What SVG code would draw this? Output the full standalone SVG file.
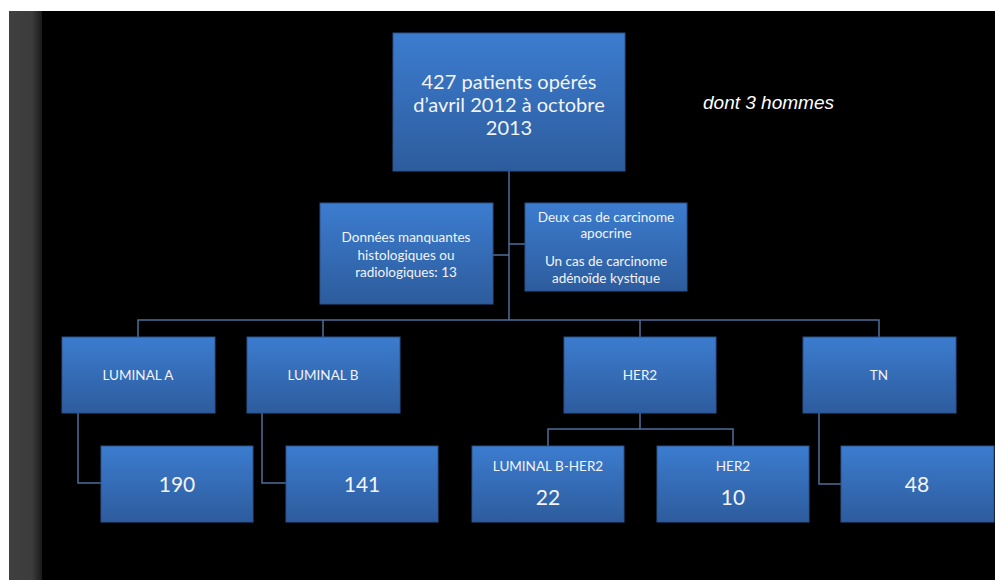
<svg xmlns="http://www.w3.org/2000/svg" width="995" height="580" viewBox="0 0 995 580">
<defs>
<linearGradient id="g" x1="0" y1="0" x2="0" y2="1">
<stop offset="0" stop-color="#3c7ccf"/>
<stop offset="1" stop-color="#2d5c9d"/>
</linearGradient>
<linearGradient id="side" x1="0" y1="0" x2="1" y2="0">
<stop offset="0" stop-color="#404040"/>
<stop offset="0.7" stop-color="#3c3c3c"/>
<stop offset="1" stop-color="#1a1a1a"/>
</linearGradient>
<style>
.box{fill:url(#g);stroke:#2b528c;stroke-width:1}
.t{font-family:Lato,"Open Sans",sans-serif;fill:#f2f4f8;text-anchor:middle;dominant-baseline:central}
.s{font-size:13.5px}
.n{font-size:21px}
.c{fill:none;stroke:#4d6e9a;stroke-width:1.5}
</style>
</defs>
<rect width="995" height="580" fill="#ffffff"/>
<rect x="9" y="11" width="33" height="569" fill="url(#side)"/>
<rect x="42" y="11" width="953" height="569" fill="#000000"/>

<g id="connectors">
<path class="c" d="M509,171 V320"/>
<path class="c" d="M493,255 H509 M509,244 H525"/>
<path class="c" d="M138,337 V320 H879 V337 M323,320 V337 M640,320 V337"/>
<path class="c" d="M78,413 V483 H101"/>
<path class="c" d="M262,413 V483 H286"/>
<path class="c" d="M640,413 V429 M548,446 V429 H733 V446"/>
<path class="c" d="M819,413 V484 H841"/>
</g>

<g id="root">
<rect class="box" x="393" y="33" width="232" height="138"/>
<text class="t" x="509" y="81" font-size="20">427 patients opérés</text>
<text class="t" x="509" y="104" font-size="20">d’avril 2012 à octobre</text>
<text class="t" x="509" y="127" font-size="20">2013</text>
</g>

<g id="note">
<text x="703" y="109" font-family="'Liberation Sans',Arial,sans-serif" font-style="italic" font-size="19" fill="#ffffff">dont 3 hommes</text>
</g>

<g id="missing">
<rect class="box" x="320" y="203" width="173" height="101"/>
<text class="t s" x="406" y="237">Données manquantes</text>
<text class="t s" x="406" y="255">histologiques ou</text>
<text class="t s" x="406" y="272">radiologiques:  13</text>
</g>

<g id="other">
<rect class="box" x="525" y="203" width="162" height="88"/>
<text class="t s" x="606" y="217">Deux cas de carcinome</text>
<text class="t s" x="606" y="233">apocrine</text>
<text class="t s" x="606" y="261">Un cas  de carcinome</text>
<text class="t s" x="606" y="278">adénoïde kystique</text>
</g>

<g id="lumA">
<rect class="box" x="62" y="337" width="153" height="76"/>
<text class="t s" x="138" y="375">LUMINAL A</text>
</g>
<g id="lumB">
<rect class="box" x="247" y="337" width="153" height="76"/>
<text class="t s" x="323" y="375">LUMINAL B</text>
</g>
<g id="her2">
<rect class="box" x="564" y="337" width="152" height="76"/>
<text class="t s" x="640" y="375">HER2</text>
</g>
<g id="tn">
<rect class="box" x="803" y="337" width="153" height="76"/>
<text class="t s" x="879" y="375">TN</text>
</g>

<g id="n190">
<rect class="box" x="101" y="446" width="152" height="76"/>
<text class="t n" x="177" y="483">190</text>
</g>
<g id="n141">
<rect class="box" x="286" y="446" width="152" height="76"/>
<text class="t n" x="362" y="483">141</text>
</g>
<g id="lumBher2">
<rect class="box" x="472" y="446" width="152" height="76"/>
<text class="t s" x="548" y="466">LUMINAL B-HER2</text>
<text class="t n" x="548" y="496">22</text>
</g>
<g id="her2only">
<rect class="box" x="657" y="446" width="152" height="76"/>
<text class="t s" x="733" y="466">HER2</text>
<text class="t n" x="733" y="496">10</text>
</g>
<g id="n48">
<rect class="box" x="841" y="446" width="153" height="76"/>
<text class="t n" x="917" y="483">48</text>
</g>
</svg>
